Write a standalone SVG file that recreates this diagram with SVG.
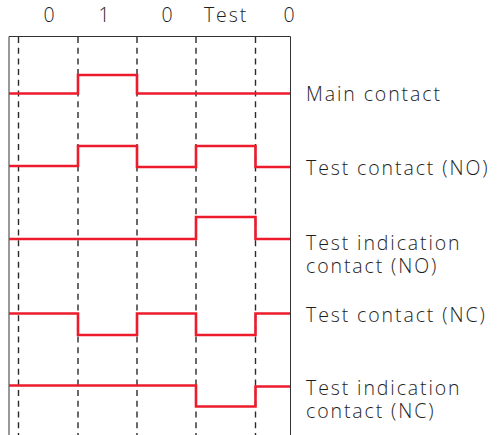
<svg xmlns="http://www.w3.org/2000/svg" width="501" height="435" viewBox="0 0 501 435">
<style>
text{font-family:"Open Sans","Noto Sans","Liberation Sans",sans-serif;font-size:19.5px;font-weight:300;fill:#1e1e1e;letter-spacing:1.9px}
.frame{stroke:#333;stroke-width:1;fill:none}
.dash{stroke:#2a2a2a;stroke-width:1.4;stroke-dasharray:6 4.7;fill:none}
.wave{stroke:#ec1c2c;stroke-width:2.6;fill:none;stroke-linejoin:miter}
.top{text-anchor:middle}
</style>
<rect width="501" height="435" fill="#fff"/>
<g id="grid">
<path class="frame" d="M9,435 V36.5 H290.5 V435"/>
<path class="dash" d="M18.5,37 V435 M78,37 V435 M137,37 V435 M196,37 V435 M255.5,37 V435"/>
</g>
<g id="states">
<text class="top" x="50" y="22">0</text>
<text class="top" x="105" y="22">1</text>
<text class="top" x="168" y="22">0</text>
<text class="top" x="226" y="22">Test</text>
<text class="top" x="290" y="22">0</text>
</g>
<g id="connectors"></g>
<g id="main-contact">
<path class="wave" d="M9,93.5 H78 V75 H137 V93.5 H290"/>
<text x="306" y="101">Main contact</text>
</g>
<g id="test-contact-no">
<path class="wave" d="M9,166 H78 V146 H137 V167 H196 V146 H255.5 V167 H290"/>
<text x="306" y="175">Test contact (NO)</text>
</g>
<g id="test-indication-no">
<path class="wave" d="M9,239 H196 V217 H255.5 V239 H290"/>
<text x="306" y="250">Test indication</text>
<text x="306" y="273">contact (NO)</text>
</g>
<g id="test-contact-nc">
<path class="wave" d="M9,313.5 H78 V335 H137 V313.5 H196 V335 H255.5 V313.5 H290"/>
<text x="306" y="322">Test contact (NC)</text>
</g>
<g id="test-indication-nc">
<path class="wave" d="M9,385.5 H196 V406.5 H255.5 V386.5 H290"/>
<text x="306" y="395">Test indication</text>
<text x="306" y="418">contact (NC)</text>
</g>
</svg>
